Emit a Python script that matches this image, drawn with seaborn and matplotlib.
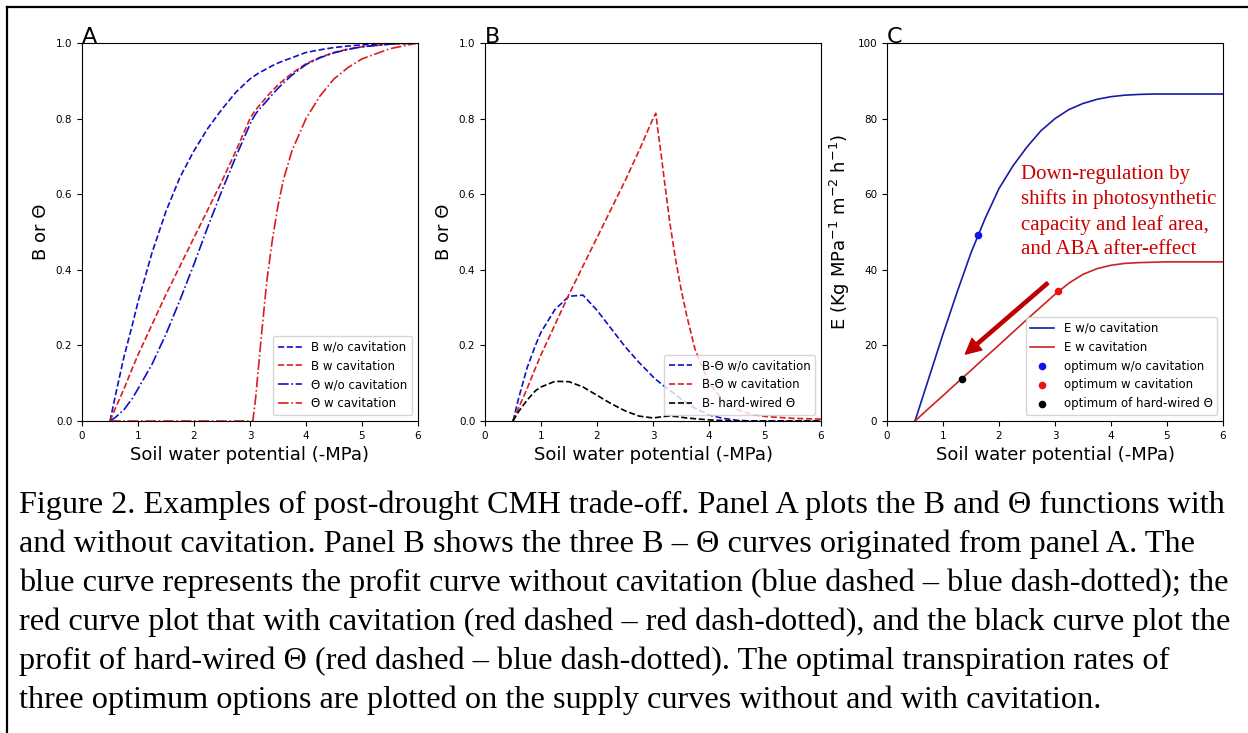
import matplotlib
matplotlib.use("Agg")
import matplotlib.pyplot as plt
from matplotlib.lines import Line2D
import seaborn as sns

# soil water potential (-MPa) used by panels A and B
psi = [0.5, 0.6, 0.75, 0.9, 1.0, 1.25, 1.5, 1.75, 2.0, 2.25, 2.5, 2.75, 3.0, 3.05,
       3.1, 3.15, 3.2, 3.3, 3.4, 3.5, 3.6, 3.75, 4.0, 4.25, 4.5, 4.75, 5.0, 5.5, 6.0]

# panel A
b_wo = [0, 0.07, 0.17, 0.255, 0.315, 0.445, 0.555, 0.645, 0.715, 0.775, 0.825, 0.87, 0.905, 0.91,
        0.915, 0.92, 0.924, 0.932, 0.94, 0.947, 0.953, 0.961, 0.975, 0.982, 0.988, 0.992, 0.995, 0.999, 1.0]
b_w = [0, 0.035, 0.085, 0.14, 0.175, 0.255, 0.335, 0.41, 0.485, 0.56, 0.635, 0.715, 0.80, 0.812,
       0.822, 0.832, 0.84, 0.858, 0.874, 0.889, 0.902, 0.92, 0.945, 0.962, 0.975, 0.984, 0.99, 0.997, 1.0]
th_wo = [0, 0.01, 0.03, 0.06, 0.085, 0.15, 0.23, 0.32, 0.415, 0.515, 0.61, 0.70, 0.785, 0.80,
         0.812, 0.822, 0.83, 0.847, 0.864, 0.88, 0.895, 0.915, 0.943, 0.961, 0.974, 0.983, 0.99, 0.997, 1.0]
th_w = [0, 0, 0, 0, 0, 0, 0, 0, 0, 0, 0, 0, 0, 0,
        0.06, 0.14, 0.22, 0.37, 0.48, 0.57, 0.64, 0.715, 0.80, 0.86, 0.905, 0.935, 0.958, 0.985, 1.0]

# panel B (profit curves)
diff_wo = [0, 0.06, 0.14, 0.2, 0.235, 0.295, 0.33, 0.333, 0.293, 0.245, 0.197, 0.155, 0.117, 0.11,
           0.104, 0.098, 0.092, 0.081, 0.07, 0.058, 0.048, 0.034, 0.016, 0.007, 0.002, 0, 0, 0, 0]
diff_w = [0, 0.035, 0.085, 0.14, 0.175, 0.255, 0.335, 0.41, 0.485, 0.56, 0.635, 0.715, 0.80, 0.814,
          0.755, 0.70, 0.64, 0.525, 0.43, 0.35, 0.28, 0.19, 0.10, 0.055, 0.03, 0.018, 0.012, 0.007, 0.005]
diff_hard = [0, 0.025, 0.055, 0.08, 0.09, 0.105, 0.104, 0.09, 0.068, 0.046, 0.027, 0.013, 0.008, 0.009,
             0.01, 0.011, 0.012, 0.013, 0.012, 0.01, 0.008, 0.006, 0.003, 0.001, 0, 0, 0, 0, 0]

# panel C (supply curves)
psi_c = [0.5, 0.75, 1.0, 1.25, 1.5, 1.75, 2.0, 2.25, 2.5, 2.75, 3.0, 3.25, 3.5, 3.75,
         4.0, 4.25, 4.5, 4.75, 5.0, 5.5, 6.0]
e_wo = [0, 11.5, 23, 34, 44.5, 53.5, 61.5, 67.5, 72.5, 76.8, 80.0, 82.4, 84.0, 85.1,
        85.8, 86.2, 86.4, 86.5, 86.5, 86.5, 86.5]
e_w = [0, 3.4, 6.7, 10.1, 13.4, 16.8, 20.1, 23.5, 26.9, 30.2, 33.5, 36.5, 38.8, 40.3,
       41.2, 41.7, 41.9, 42.0, 42.1, 42.1, 42.1]
opt_psi = [1.62, 3.06, 1.34]
opt_e = [49.3, 34.4, 11.2]

caption = [
    "Figure 2. Examples of post-drought CMH trade-off. Panel A plots the B and \u0398 functions with",
    "and without cavitation. Panel B shows the three B \u2013 \u0398 curves originated from panel A. The",
    "blue curve represents the profit curve without cavitation (blue dashed \u2013 blue dash-dotted); the",
    "red curve plot that with cavitation (red dashed \u2013 red dash-dotted), and the black curve plot the",
    "profit of hard-wired \u0398 (red dashed \u2013 blue dash-dotted). The optimal transpiration rates of",
    "three optimum options are plotted on the supply curves without and with cavitation.",
]

BLUE = "#1010c8"
RED = "#dc1c1c"

plt.rcParams["font.family"] = ["DejaVu Sans"]
plt.rcParams["xtick.labelsize"] = 7.5
plt.rcParams["ytick.labelsize"] = 7.5

W, H = 1248, 733
fig = plt.figure(figsize=(W / 100, H / 100), dpi=100)


def add_axes(left, top=43, width=336, height=378):
    return fig.add_axes([left / W, (H - top - height) / H, width / W, height / H])


axA = add_axes(82)
axB = add_axes(485)
axC = add_axes(887)

lw = 1.2
sns.lineplot(x=psi, y=b_wo, ax=axA, color=BLUE, linestyle="--", lw=lw, label="B w/o cavitation")
sns.lineplot(x=psi, y=b_w, ax=axA, color=RED, linestyle="--", lw=lw, label="B w cavitation")
sns.lineplot(x=psi, y=th_wo, ax=axA, color=BLUE, linestyle="-.", lw=lw, label="\u0398 w/o cavitation")
sns.lineplot(x=psi, y=th_w, ax=axA, color=RED, linestyle="-.", lw=lw, label="\u0398 w cavitation")

sns.lineplot(x=psi, y=diff_wo, ax=axB, color=BLUE, linestyle="--", lw=lw, label="B-\u0398 w/o cavitation")
sns.lineplot(x=psi, y=diff_w, ax=axB, color=RED, linestyle="--", lw=lw, label="B-\u0398 w cavitation")
sns.lineplot(x=psi, y=diff_hard, ax=axB, color="black", linestyle="--", lw=lw, label="B- hard-wired \u0398")

sns.lineplot(x=psi_c, y=e_wo, ax=axC, color="#1a1aa8", lw=lw, label="E w/o cavitation")
sns.lineplot(x=psi_c, y=e_w, ax=axC, color="#cc2222", lw=lw, label="E w cavitation")
dot_labels = ["optimum w/o cavitation", "optimum w cavitation", "optimum of hard-wired \u0398"]
dot_colors = ["#0a14f0", "#ee1111", "black"]
for xp, ep, lab, col in zip(opt_psi, opt_e, dot_labels, dot_colors):
    sns.scatterplot(x=[xp], y=[ep], ax=axC, color=col, s=30, linewidth=0, label=lab, zorder=3)

for ax, letter in zip([axA, axB, axC], "ABC"):
    ax.set_xlim(0, 6)
    ax.set_xticks(range(7))
    ax.set_xlabel("Soil water potential (-MPa)", fontsize=13)
    ax.text(0.0, 1.0, letter, transform=ax.transAxes, fontsize=16, ha="left", va="baseline")
    ax.legend(loc="lower right", fontsize=8.5)

for ax in [axA, axB]:
    ax.set_ylim(0, 1)
    ax.set_yticks([0, 0.2, 0.4, 0.6, 0.8, 1.0])
    ax.set_ylabel("B or \u0398", fontsize=13)

axC.set_ylim(0, 100)
axC.set_yticks(range(0, 101, 20))
axC.set_ylabel("E (Kg MPa$^{-1}$ m$^{-2}$ h$^{-1}$)", fontsize=13)

axC.text(2.40, 67.8, "Down-regulation by\nshifts in photosynthetic\ncapacity and leaf area,\nand ABA after-effect",
         color="#cc0000", fontfamily="Liberation Serif", fontsize=15, ha="left", va="top", linespacing=1.37)
axC.annotate("", xy=(1.40, 17.7), xytext=(2.87, 36.5),
             arrowprops=dict(facecolor="#c00000", edgecolor="#c00000", width=2.3,
                             headwidth=11, headlength=11, shrink=0))

# page frame (top and left edges only)
fig.add_artist(Line2D([7 / W, 7 / W], [0, 1 - 6.5 / H], transform=fig.transFigure, color="black", lw=1.6))
fig.add_artist(Line2D([7 / W, 1], [1 - 6.5 / H, 1 - 6.5 / H], transform=fig.transFigure, color="black", lw=1.6))

for i, line in enumerate(caption):
    base = 513 + 39 * i
    fig.text(19 / W, 1 - base / H, line, fontfamily="Liberation Serif", fontsize=23.2, va="baseline", ha="left")

fig.savefig("out.png", dpi=100)
